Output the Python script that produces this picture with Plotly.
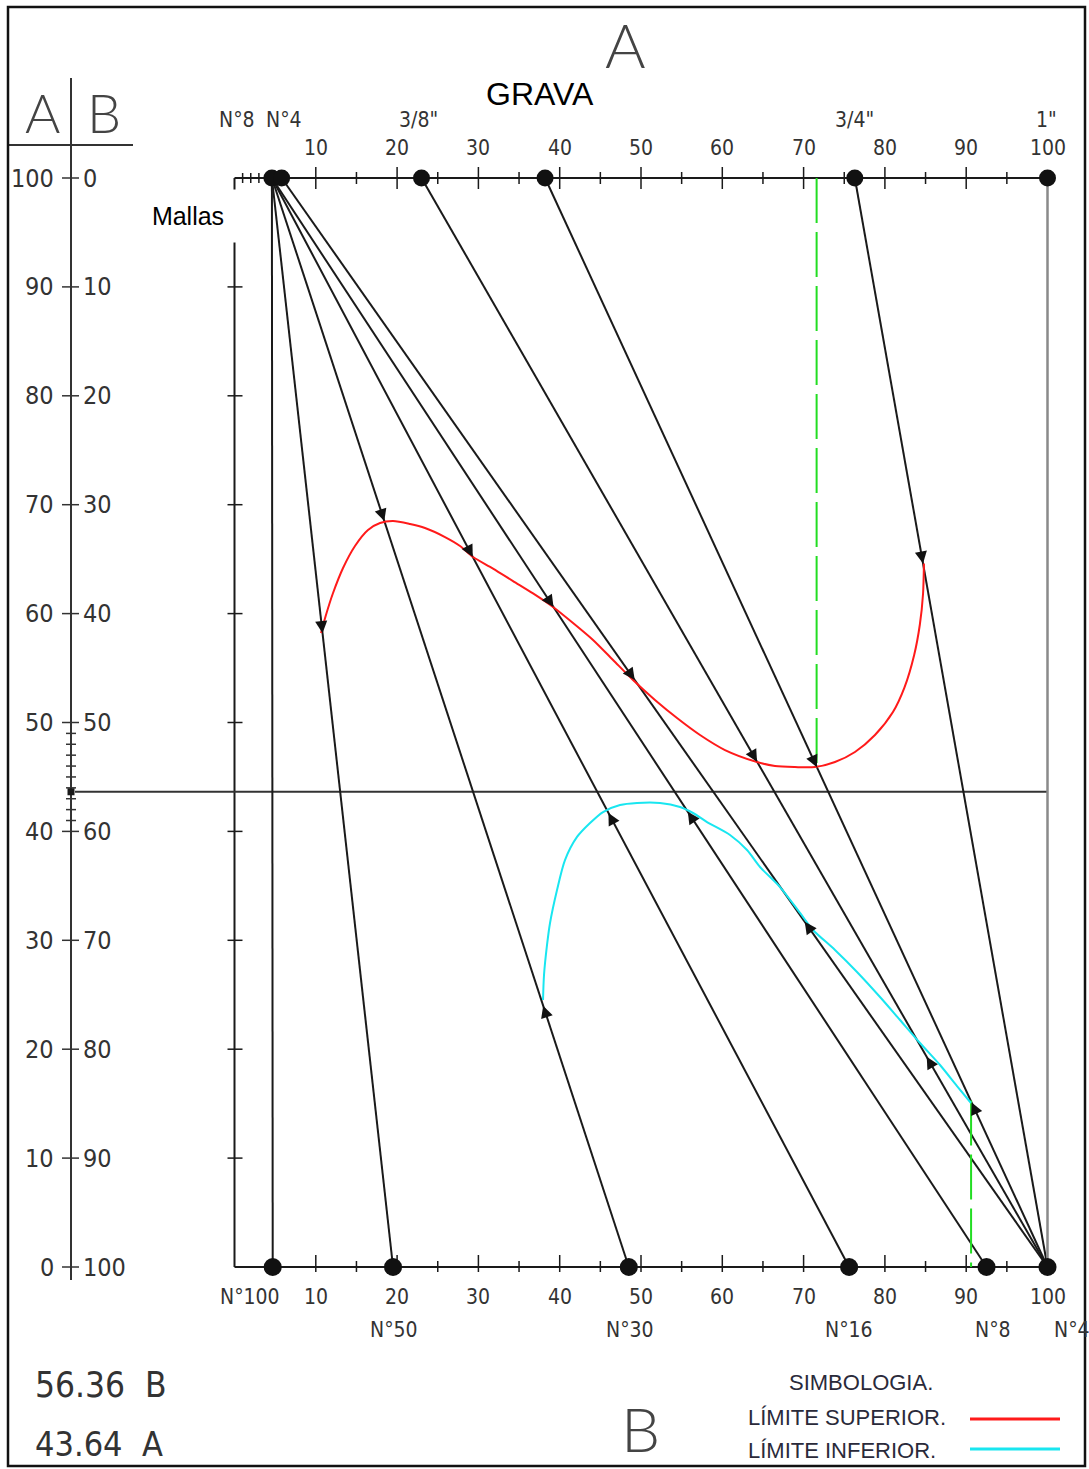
import math
import plotly.graph_objects as go

# ---------------- data ----------------
# lines of the nomograph: value on top scale -> value on bottom scale
line_top = [4.6, 4.6, 4.6, 4.6, 4.6, 5.8, 23.0, 38.2, 76.3, 100.0]
line_bot = [4.7, 19.5, 48.5, 75.6, 92.5, 100.0, 100.0, 100.0, 100.0, 100.0]

top_dots = [4.6, 5.8, 23.0, 38.2, 76.3, 100.0]
bot_dots = [4.7, 19.5, 48.5, 75.6, 92.5, 100.0]

scale_ticks = [10, 20, 30, 40, 50, 60, 70, 80, 90, 100]
scale_labels = ["10", "20", "30", "40", "50", "60", "70", "80", "90", "100"]

top_sieve_labels = ["N°8", "N°4", '3/8"', '3/4"', '1"']
top_sieve_pos = [0.3, 6.1, 22.6, 76.3, 99.9]
bot_sieve_labels = ["N°50", "N°30", "N°16", "N°8", "N°4"]
bot_sieve_pos = [19.6, 48.6, 75.6, 93.3, 103.0]

a_ticks = [0, 10, 20, 30, 40, 50, 60, 70, 80, 90, 100]
a_labels = ["0", "10", "20", "30", "40", "50", "60", "70", "80", "90", "100"]
b_labels = ["100", "90", "80", "70", "60", "50", "40", "30", "20", "10", "0"]

A_mix = 43.64
B_mix = 56.36

# upper limit curve (x on scale, A %)
sup_x = [10.64, 11.25, 12.12, 13.35, 14.82, 16.42, 17.90, 19.50, 21.59, 23.43, 25.89,
         27.74, 29.34, 31.80, 34.26, 36.72, 39.18, 41.64, 44.10, 46.56, 49.02, 51.72,
         54.43, 57.26, 60.33, 64.27, 66.48, 68.94, 71.40, 73.86, 76.32, 78.78, 80.99,
         82.40, 83.60, 84.30, 84.69, 84.80]
sup_y = [58.22, 59.87, 61.89, 64.19, 66.21, 67.68, 68.32, 68.50, 68.23, 67.86, 67.03,
         66.21, 65.20, 64.14, 62.99, 61.85, 60.61, 59.14, 57.58, 55.74, 53.90, 52.07,
         50.41, 48.85, 47.47, 46.37, 46.01, 45.91, 45.91, 46.37, 47.29, 48.85, 50.96,
         53.20, 56.20, 59.00, 61.80, 64.60]

# lower limit curve
inf_x = [37.95, 38.07, 38.44, 38.81, 39.67, 40.65, 42.13, 43.73, 45.33, 47.42, 49.51,
         52.34, 54.80, 56.40, 58.12, 60.95, 63.04, 64.64, 67.10, 69.56, 71.16, 73.86,
         76.57, 79.40, 81.86, 84.32, 86.78, 88.87, 90.59]
inf_y = [24.52, 26.81, 29.57, 31.59, 34.62, 37.37, 39.49, 40.77, 41.78, 42.42, 42.61,
         42.61, 42.24, 41.69, 40.86, 39.67, 38.29, 36.73, 34.89, 32.51, 30.95, 29.11,
         27.09, 24.79, 22.68, 20.57, 18.55, 16.62, 15.06]

# arrow marks: (line index, A value where the arrow tip sits)
sup_arrow_line = [1, 2, 3, 4, 5, 6, 7, 8]
sup_arrow_a = [58.2, 68.5, 65.2, 60.6, 53.9, 46.4, 45.9, 64.6]
inf_arrow_line = [2, 3, 4, 5, 6, 7]
inf_arrow_a = [24.0, 41.7, 41.8, 31.7, 19.3, 15.1]

# green guide lines (x, A from, A to)
guide_x = [71.6, 90.6]
guide_a0 = [100.0, 15.3]
guide_a1 = [45.9, 0.0]

# ---------------- geometry of the sheet ----------------
W, H = 1089, 1469
PX_X = 8.13    # pixels per unit on the 0-100 scales
PX_Y = 10.89   # pixels per unit of A
X0_PX = 234.5  # pixel of value 0
Y0_PX = 1267.0 # pixel of A = 0
xr = [-X0_PX / PX_X, (W - X0_PX) / PX_X]
yr = [(Y0_PX - H) / PX_Y, Y0_PX / PX_Y]


def vx(px):
    return (px - X0_PX) / PX_X


def ay(py):
    return (Y0_PX - py) / PX_Y


dx = 1.0 / PX_X
dy = 1.0 / PX_Y

FN = "Liberation Sans Narrow, DejaVu Sans Condensed, Arial Narrow, sans-serif"
FA = "Liberation Sans, Arial, sans-serif"
FT = "DejaVu Sans ExtraLight, Lato Light, DejaVu Sans Condensed, sans-serif"
INK = "#1a1a1a"

fig = go.Figure()


def seg_trace(xs, ys, color=INK, width=2, dash=None):
    fig.add_trace(go.Scatter(x=xs, y=ys, mode="lines", hoverinfo="skip",
                             line=dict(color=color, width=width, dash=dash),
                             showlegend=False))


# ---- top and bottom scales ----
seg_trace([0, 100], [100, 100], width=2)
seg_trace([0, 100], [0, 0], width=2)
# left frame of chart area
seg_trace([0, 0], [100, 0], width=2)

# ticks on top scale (crossing)
tx, ty = [], []
for v in range(10, 100, 10):
    tx += [v, v, None]
    ty += [100 + 11 * dy, 100 - 11 * dy, None]
for v in range(5, 100, 10):
    tx += [v, v, None]
    ty += [100 + 6 * dy, 100 - 6 * dy, None]
for v in [1, 2, 3]:
    tx += [v, v, None]
    ty += [100 + 5 * dy, 100 - 5 * dy, None]
seg_trace(tx, ty, width=1.5)

# ticks on bottom scale (mostly upward)
bx, by = [], []
for v in range(10, 100, 10):
    bx += [v, v, None]
    by += [12 * dy, -5 * dy, None]
for v in range(5, 100, 10):
    bx += [v, v, None]
    by += [6 * dy, -5 * dy, None]
seg_trace(bx, by, width=1.5)

# ticks on left frame line
lx, ly = [], []
for a in range(10, 100, 10):
    lx += [-7 * dx, 8 * dx, None]
    ly += [a, a, None]
seg_trace(lx, ly, width=1.5)

# ---- A/B scale on the far left ----
SX = vx(71)
seg_trace([SX, SX], [ay(78), ay(1280)], width=2, color="#333")
seg_trace([vx(8), vx(133)], [ay(145), ay(145)], width=2, color="#333")
kx, ky = [], []
for a in a_ticks:
    kx += [vx(62), vx(79), None]
    ky += [a, a, None]
for a in range(41, 50):
    kx += [vx(66), vx(76), None]
    ky += [a, a, None]
seg_trace(kx, ky, width=1.5, color="#333")
fig.add_trace(go.Scatter(x=[SX], y=[A_mix], mode="markers", hoverinfo="skip",
                         marker=dict(symbol="square", size=7, color=INK),
                         showlegend=False))

# horizontal mix line
seg_trace([vx(75), 100], [A_mix, A_mix], width=2, color="#333")

# ---- nomograph lines ----
for i, (t, b) in enumerate(zip(line_top, line_bot)):
    col = "#8a8a8a" if (t == 100 and b == 100) else INK
    w = 2.5 if col != INK else 2
    seg_trace([t, b], [100, 0], color=col, width=w)

# green guide lines
for gx, g0, g1 in zip(guide_x, guide_a0, guide_a1):
    seg_trace([gx, gx], [g0, g1], color="#22dd22", width=2, dash="45px,9px")

# curves
fig.add_trace(go.Scatter(x=sup_x, y=sup_y, mode="lines", hoverinfo="skip",
                         line=dict(color="#ff1a1a", width=2, shape="spline", smoothing=0.8),
                         showlegend=False))
fig.add_trace(go.Scatter(x=inf_x, y=inf_y, mode="lines", hoverinfo="skip",
                         line=dict(color="#19e6f0", width=2, shape="spline", smoothing=0.8),
                         showlegend=False))

# dots
fig.add_trace(go.Scatter(x=top_dots, y=[100] * len(top_dots), mode="markers", hoverinfo="skip",
                         marker=dict(size=17, color="#111"), showlegend=False))
fig.add_trace(go.Scatter(x=bot_dots, y=[0] * len(bot_dots), mode="markers", hoverinfo="skip",
                         marker=dict(size=18, color="#111"), showlegend=False))

annotations = []


def arrow(idx, a, down):
    t, b = line_top[idx], line_bot[idx]
    x = t + (b - t) * (100 - a) / 100.0
    ddx = (b - t) * PX_X
    ddy = 100 * PX_Y
    n = math.hypot(ddx, ddy)
    ux, uy = ddx / n, ddy / n
    if not down:
        ux, uy = -ux, -uy
    L = 13
    annotations.append(dict(x=x, y=a, xref="x", yref="y", text="", showarrow=True,
                            ax=-ux * L, ay=-uy * L, axref="pixel", ayref="pixel",
                            arrowhead=2, arrowsize=1.1, arrowwidth=2.2,
                            arrowcolor="#111", standoff=0))


for li, a in zip(sup_arrow_line, sup_arrow_a):
    arrow(li, a, True)
for li, a in zip(inf_arrow_line, inf_arrow_a):
    arrow(li, a, False)


def txt(x, y, s, size, family=FN, color="#333", xanchor="center", yanchor="middle", **kw):
    d = dict(x=x, y=y, xref="x", yref="y", text=s, showarrow=False,
             font=dict(family=family, size=size, color=color),
             xanchor=xanchor, yanchor=yanchor)
    d.update(kw)
    annotations.append(d)


# scale labels
for v, s in zip(scale_ticks, scale_labels):
    txt(v, ay(148), s, 21)
    txt(v, ay(1297), s, 21)
txt(vx(250), ay(1297), "N°100", 21)
for v, s in zip(top_sieve_pos, top_sieve_labels):
    txt(v, ay(120), s, 21)
for v, s in zip(bot_sieve_pos, bot_sieve_labels):
    txt(v, ay(1330), s, 21)

# A/B scale labels
for a, sa, sb in zip(a_ticks, a_labels, b_labels):
    txt(vx(56), a, sa, 25, xanchor="right")
    txt(vx(81), a, sb, 25, xanchor="left")
txt(vx(42), ay(112), "A", 54, family=FT, color="#444")
txt(vx(104), ay(112), "B", 54, family=FT, color="#444")

# titles and notes
txt(vx(625), ay(44), "A", 62, family=FT, color="#444")
txt(vx(640), ay(1428), "B", 62, family=FT, color="#444")
txt(vx(540), ay(94), "GRAVA", 32, family=FA, color="#000")
annotations.append(dict(x=vx(188), y=ay(216), xref="x", yref="y", text="Mallas",
                        showarrow=False, font=dict(family=FA, size=25, color="#000"),
                        bgcolor="white", width=98, height=50, align="center"))
txt(vx(33), ay(1385), f"{B_mix:.2f}  B", 35, xanchor="left")
txt(vx(33), ay(1444), f"{A_mix:.2f}  A", 34, xanchor="left")

# legend
txt(vx(861), ay(1382), "SIMBOLOGIA.", 22, family=FA, color="#2a2a3a")
txt(vx(746), ay(1417), "LÍMITE SUPERIOR.", 22, family=FA, color="#2a2a3a", xanchor="left")
txt(vx(746), ay(1450), "LÍMITE INFERIOR.", 22, family=FA, color="#2a2a3a", xanchor="left")
seg_trace([vx(970), vx(1060)], [ay(1419), ay(1419)], color="#ff1a1a", width=3)
seg_trace([vx(970), vx(1060)], [ay(1449), ay(1449)], color="#19e6f0", width=3)

fig.update_layout(
    width=W, height=H, margin=dict(l=0, r=0, t=0, b=0),
    paper_bgcolor="white", plot_bgcolor="white",
    xaxis=dict(range=xr, visible=False, fixedrange=True),
    yaxis=dict(range=yr, visible=False, fixedrange=True),
    annotations=annotations,
    shapes=[dict(type="rect", xref="paper", yref="paper",
                 x0=8 / W, x1=1085 / W, y0=1 - 1466 / H, y1=1 - 7 / H,
                 line=dict(color="#111", width=2.5))],
    showlegend=False,
)

fig.write_html("out.html")
